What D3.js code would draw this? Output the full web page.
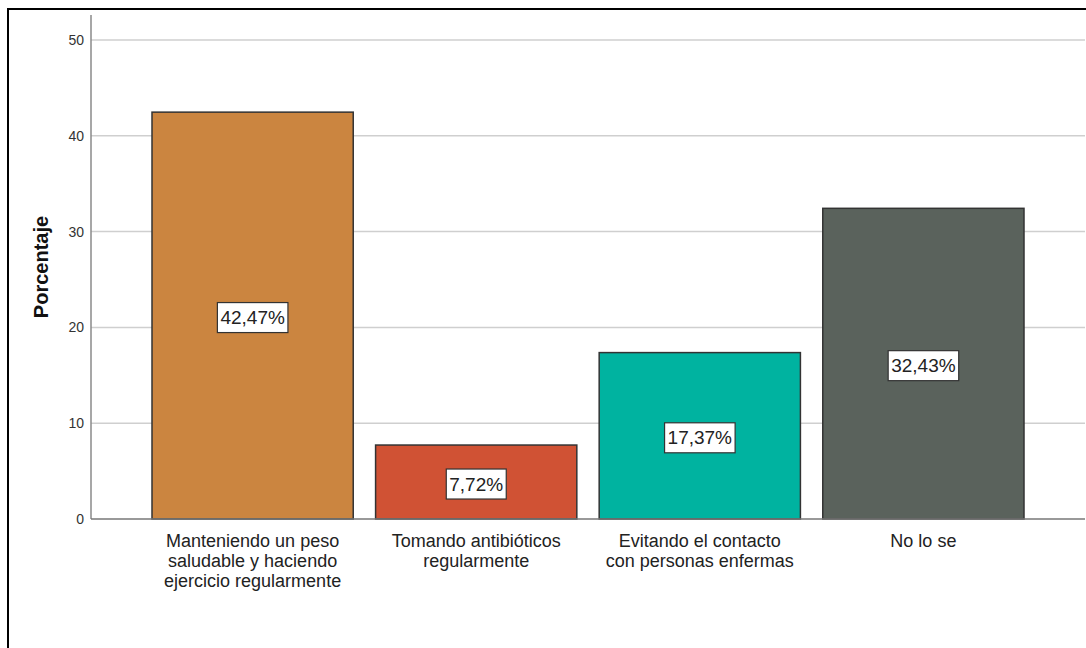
<!DOCTYPE html>
<html>
<head>
<meta charset="utf-8">
<script src="https://cdn.jsdelivr.net/npm/d3@7"></script>
<style>
  body { margin: 0; background: #fff; }
  svg { display: block; font-family: Arial, "Liberation Sans", sans-serif; }
</style>
</head>
<body>
<script>
// datos del gráfico
var categorias = [
  ['Manteniendo un peso', 'saludable y haciendo', 'ejercicio regularmente'],
  ['Tomando antibióticos', 'regularmente'],
  ['Evitando el contacto', 'con personas enfermas'],
  ['No lo se']
];
var porcentajes = [42.47, 7.72, 17.37, 32.43];
var etiquetas = ['42,47%', '7,72%', '17,37%', '32,43%'];
var colores = ['#CB8540', '#D05234', '#00B3A0', '#5A625C'];
var ticksY = [0, 10, 20, 30, 40, 50];

var W = 1086, H = 648;
var svg = d3.select('body').append('svg')
  .attr('width', W)
  .attr('height', H);

svg.append('rect')
  .attr('x', 8).attr('y', 9)
  .attr('width', 1200).attr('height', 800)
  .attr('fill', 'none')
  .attr('stroke', '#000')
  .attr('stroke-width', 2);

var izq = 91, der = 1085, arriba = 15, abajo = 519;

var y = d3.scaleLinear()
  .domain([0, 50])
  .range([abajo, 40]);

var x = d3.scaleBand()
  .domain(d3.range(porcentajes.length))
  .range([152, 1024])
  .paddingInner(0.1)
  .paddingOuter(0);

// líneas de cuadrícula
svg.append('g').selectAll('line')
  .data(ticksY.filter(function(d) { return d > 0; }))
  .enter().append('line')
  .attr('x1', izq).attr('x2', der)
  .attr('y1', function(d) { return y(d); })
  .attr('y2', function(d) { return y(d); })
  .attr('stroke', '#cfcfcf')
  .attr('stroke-width', 1.5);

// etiquetas del eje Y
svg.append('g').selectAll('text')
  .data(ticksY)
  .enter().append('text')
  .attr('x', izq - 7)
  .attr('y', function(d) { return y(d); })
  .attr('dy', '0.35em')
  .attr('text-anchor', 'end')
  .attr('font-size', 14)
  .attr('fill', '#333')
  .text(function(d) { return d; });

// barras
svg.append('g').selectAll('rect')
  .data(porcentajes)
  .enter().append('rect')
  .attr('x', function(d, i) { return x(i); })
  .attr('y', function(d) { return y(d); })
  .attr('width', x.bandwidth())
  .attr('height', function(d) { return y(0) - y(d); })
  .attr('fill', function(d, i) { return colores[i]; })
  .attr('stroke', '#333')
  .attr('stroke-width', 1.5);

// ejes
svg.append('line')
  .attr('x1', izq).attr('x2', izq)
  .attr('y1', arriba).attr('y2', abajo)
  .attr('stroke', '#8a8a8a').attr('stroke-width', 1.5);
svg.append('line')
  .attr('x1', izq).attr('x2', der)
  .attr('y1', abajo).attr('y2', abajo)
  .attr('stroke', '#777').attr('stroke-width', 1.5);

// etiquetas de valor
var lab = svg.append('g').selectAll('g')
  .data(porcentajes)
  .enter().append('g')
  .attr('transform', function(d, i) {
    return 'translate(' + (x(i) + x.bandwidth() / 2) + ',' + ((y(d) + y(0)) / 2 + 2) + ')';
  });
lab.append('text')
  .attr('text-anchor', 'middle')
  .attr('dy', '0.35em')
  .attr('font-size', 19)
  .attr('fill', '#222')
  .text(function(d, i) { return etiquetas[i]; });
lab.each(function() {
  var g = d3.select(this);
  var b = g.select('text').node().getBBox();
  g.insert('rect', 'text')
    .attr('x', b.x - 3).attr('y', -15)
    .attr('width', b.width + 6).attr('height', 30)
    .attr('fill', '#fff')
    .attr('stroke', '#333')
    .attr('stroke-width', 1.2);
});

// categorías
svg.append('g').selectAll('text')
  .data(categorias)
  .enter().append('text')
  .attr('text-anchor', 'middle')
  .attr('font-size', 18)
  .attr('fill', '#222')
  .attr('x', function(d, i) { return x(i) + x.bandwidth() / 2; })
  .attr('y', 547)
  .each(function(d) {
    var t = d3.select(this);
    var cx = t.attr('x');
    d.forEach(function(linea, k) {
      t.append('tspan').attr('x', cx).attr('y', 547 + k * 20).text(linea);
    });
  });

// título eje Y
svg.append('text')
  .attr('transform', 'translate(48,' + ((arriba + abajo) / 2) + ') rotate(-90)')
  .attr('text-anchor', 'middle')
  .attr('font-size', 20)
  .attr('font-weight', 'bold')
  .attr('fill', '#111')
  .text('Porcentaje');
</script>
</body>
</html>
